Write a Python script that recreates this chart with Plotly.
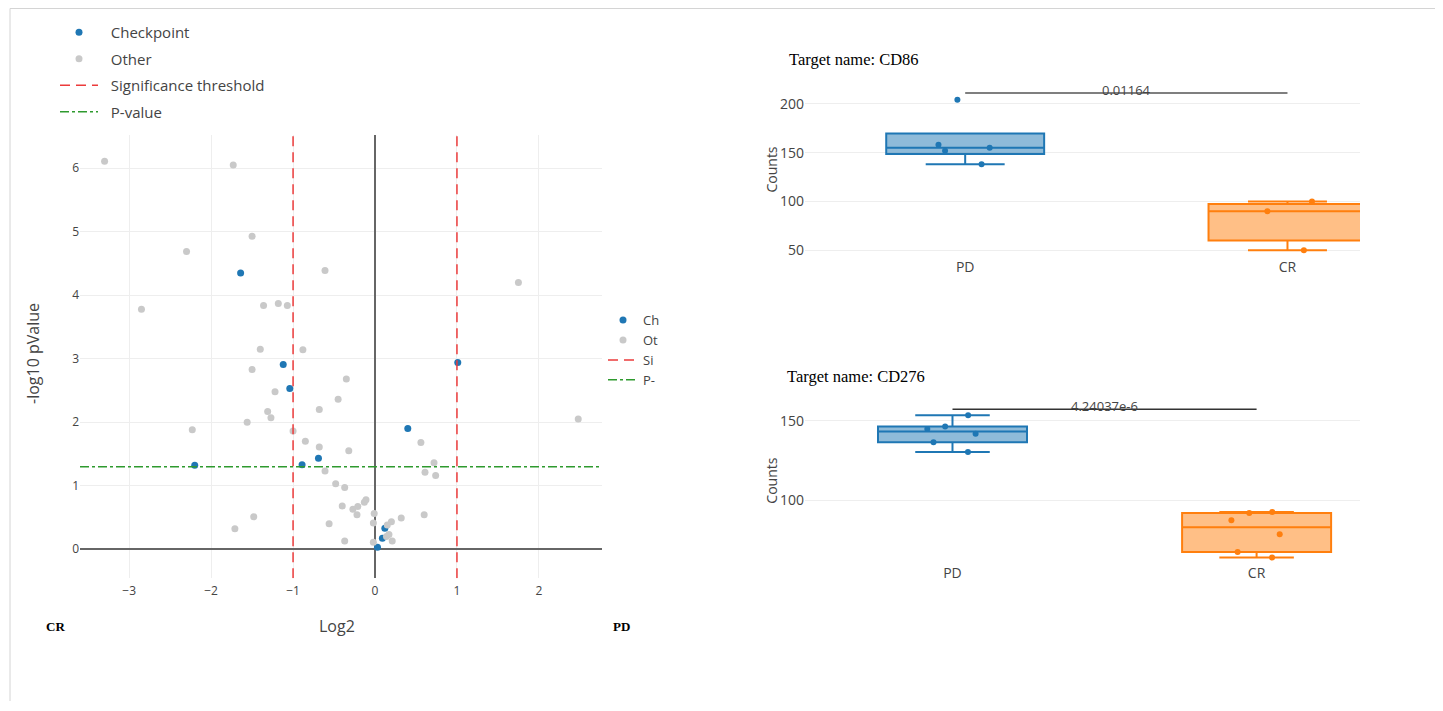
import plotly.graph_objects as go

# ---------------- figure geometry (page pixels -> paper) ----------------
W, H = 1427, 695
OX, OY = 8, 8


def px(X):
    return (X - OX) / W


def py(Y):
    return 1 - (Y - OY) / H


# ---------------- volcano data ----------------
checkpoint_log2 = [-1.64, 1.01, -1.12, -1.04, 0.40, -2.20, -0.69, -0.89, 0.12, 0.09, 0.03]
checkpoint_nlogp = [4.35, 2.94, 2.91, 2.53, 1.90, 1.32, 1.43, 1.33, 0.33, 0.17, 0.03]

other_log2 = [-3.30, -1.73, -1.50, -2.30, -0.61, 1.75, -2.85, -1.36, -1.18, -1.07,
              -1.40, -0.88, -1.50, -0.35, -1.22, -0.45, -1.31, -1.27, -0.68, -1.56,
              -2.23, 2.48, -1.00, -0.85, -0.68, -0.32, 0.56, 0.72, 0.61, 0.74,
              -0.61, -0.48, -0.37, -0.11, -0.13, -0.40, -0.27, -0.21, -0.22, -0.01,
              -0.56, -0.02, 0.20, 0.15, 0.32, 0.60, -0.37, -0.02, 0.14, 0.17,
              0.21, -1.48, -1.71]
other_nlogp = [6.11, 6.05, 4.93, 4.69, 4.39, 4.20, 3.78, 3.84, 3.87, 3.84,
               3.15, 3.14, 2.83, 2.68, 2.48, 2.36, 2.17, 2.07, 2.20, 2.00,
               1.88, 2.05, 1.86, 1.70, 1.61, 1.55, 1.68, 1.36, 1.21, 1.16,
               1.23, 1.03, 0.97, 0.78, 0.74, 0.68, 0.63, 0.67, 0.54, 0.56,
               0.40, 0.41, 0.43, 0.38, 0.49, 0.54, 0.13, 0.11, 0.20, 0.23,
               0.13, 0.51, 0.32]

fold_thresholds = [-1, 1]
pvalue_cut = 1.3
volcano_xrange = [-3.6, 2.77]
volcano_yrange = [-0.46, 6.53]

legend_names = ["Checkpoint", "Other", "Significance threshold", "P-value"]
clipped_names = ["Ch", "Ot", "Si", "P-"]

# ---------------- box plot data ----------------
groups = ["PD", "CR"]
cd86_pd = [138, 152, 155, 158, 204]
cd86_cr = [50, 90, 100]
cd86_p = "0.01164"
cd86_bar = 211
cd276_pd = [130.4, 136.6, 141.9, 144.8, 146.5, 153.5]
cd276_cr = [64.3, 67.8, 78.9, 87.6, 92.2, 92.8]
cd276_p = "4.24037e-6"
cd276_bar = 157.2

BLUE = "#1f77b4"
ORANGE = "#ff7f0e"
GRAY = "#c9c9c9"
RED = "#ec3b3b"
GREEN = "#2e9a2e"
FONT = "Open Sans"
SERIF = "Liberation Serif"
NB = "&nbsp;&nbsp;"

fig = go.Figure()

# ---- volcano traces (legend 1) ----
fig.add_trace(go.Scatter(x=checkpoint_log2, y=checkpoint_nlogp, mode="markers", name=NB + legend_names[0],
                         marker=dict(color=BLUE, size=7), legendgroup="a", xaxis="x", yaxis="y"))
fig.add_trace(go.Scatter(x=other_log2, y=other_nlogp, mode="markers", name=NB + legend_names[1],
                         marker=dict(color=GRAY, size=7), legendgroup="b", xaxis="x", yaxis="y"))
sx, sy = [], []
for t in fold_thresholds:
    sx += [t, t, None]
    sy += [volcano_yrange[0], volcano_yrange[1], None]
fig.add_trace(go.Scatter(x=sx, y=sy, mode="lines", name=NB + legend_names[2],
                         line=dict(color=RED, width=1.5, dash="10px,6px"), legendgroup="c",
                         xaxis="x", yaxis="y"))
fig.add_trace(go.Scatter(x=volcano_xrange, y=[pvalue_cut, pvalue_cut], mode="lines", name=NB + legend_names[3],
                         line=dict(color=GREEN, width=1.5, dash="dashdot"), legendgroup="d",
                         xaxis="x", yaxis="y"))

# ---- clipped second legend (legend 2) ----
styles = [dict(mode="markers", marker=dict(color=BLUE, size=7)),
          dict(mode="markers", marker=dict(color=GRAY, size=7)),
          dict(mode="lines", line=dict(color=RED, width=1.5, dash="10px,6px")),
          dict(mode="lines", line=dict(color=GREEN, width=1.5, dash="dashdot"))]
for nm, mk in zip(clipped_names, styles):
    fig.add_trace(go.Scatter(x=[None], y=[None], name=nm, legend="legend2", xaxis="x", yaxis="y",
                             hoverinfo="skip", **mk))


# ---- box plots ----
def add_box(vals, grp, color, xa, ya):
    fig.add_trace(go.Box(y=vals, x=[grp] * len(vals), name=grp, boxpoints="all", jitter=0.4,
                         pointpos=0, width=0.49, marker=dict(color=color, size=6),
                         line=dict(color=color, width=2), showlegend=False,
                         xaxis=xa, yaxis=ya))


add_box(cd86_pd, groups[0], BLUE, "x2", "y2")
add_box(cd86_cr, groups[1], ORANGE, "x2", "y2")
add_box(cd276_pd, groups[0], BLUE, "x3", "y3")
add_box(cd276_cr, groups[1], ORANGE, "x3", "y3")

shapes = [
    # page border
    dict(type="line", xref="paper", yref="paper", x0=px(10), x1=1, y0=py(8.5), y1=py(8.5),
         line=dict(color="#d4d4d4", width=1)),
    dict(type="line", xref="paper", yref="paper", x0=px(10), x1=px(10), y0=py(8.5), y1=0,
         line=dict(color="#d4d4d4", width=1)),
    # significance bars
    dict(type="line", xref="x2", yref="y2", x0=0, x1=1, y0=cd86_bar, y1=cd86_bar,
         line=dict(color="#555", width=1.5)),
    dict(type="line", xref="x3", yref="y3", x0=0, x1=1, y0=cd276_bar, y1=cd276_bar,
         line=dict(color="#333", width=1.5)),
]


def note(text, X, Y, size, family=FONT, color="#444", angle=0, xanchor="center"):
    return dict(text=text, x=px(X), y=py(Y), xref="paper", yref="paper", xanchor=xanchor,
                yanchor="middle", showarrow=False, textangle=angle,
                font=dict(family=family, size=size, color=color))


ann = [
    dict(text=cd86_p, x=0.5, y=cd86_bar, xref="x2", yref="y2", showarrow=False, yshift=3,
         xanchor="center", yanchor="middle", font=dict(family=FONT, size=13, color="#444")),
    dict(text=cd276_p, x=0.5, y=cd276_bar, xref="x3", yref="y3", showarrow=False, yshift=3,
         xanchor="center", yanchor="middle", font=dict(family=FONT, size=13, color="#444")),
    note("Target name: CD86", 787, 60, 16.5, SERIF, "black", xanchor="left"),
    note("Target name: CD276", 785, 378, 16.5, SERIF, "black", xanchor="left"),
    note("Counts", 772, 170, 14, angle=-90),
    note("Counts", 772, 482, 14, angle=-90),
    note("Log2", 337, 628, 16),
    note("-log10 pValue", 33, 355, 16, angle=-90),
    note("<b>CR</b>", 55, 628, 13, SERIF, "black"),
    note("<b>PD</b>", 621, 628, 13, SERIF, "black"),
]

tickfont = dict(family=FONT, size=12, color="#444")
boxtick = dict(family=FONT, size=14, color="#444")

fig.update_layout(
    width=W, height=H, autosize=False,
    margin=dict(l=0, r=0, t=0, b=0),
    paper_bgcolor="white", plot_bgcolor="white",
    font=dict(family=FONT, color="#444"),
    showlegend=True,
    legend=dict(x=px(55), y=py(16), xanchor="left", yanchor="top", font=dict(size=15, color="#444"),
                itemwidth=38, traceorder="grouped", tracegroupgap=4, bgcolor="rgba(0,0,0,0)"),
    legend2=dict(x=px(603), y=py(306), xanchor="left", yanchor="top", font=dict(size=13, color="#444"),
                 bgcolor="rgba(0,0,0,0)"),
    xaxis=dict(domain=[px(80), px(602)], range=volcano_xrange, anchor="y",
               showgrid=True, gridcolor="#eeeeee", zeroline=True, zerolinecolor="#666",
               zerolinewidth=1.5, tickfont=tickfont, ticks="", showline=False, dtick=1,
               ticklabelstandoff=4),
    yaxis=dict(domain=[py(580), py(135)], range=volcano_yrange, anchor="x",
               showgrid=True, gridcolor="#eeeeee", zeroline=True, zerolinecolor="#666",
               zerolinewidth=1.5, tickfont=tickfont, ticks="", showline=False, dtick=1),
    xaxis2=dict(domain=[px(805), px(1360)], range=[-0.497, 1.225], anchor="y2", type="category",
                categoryorder="array", categoryarray=groups, showgrid=False, zeroline=False,
                tickfont=boxtick),
    yaxis2=dict(domain=[py(258), py(80)], range=[42.9, 224.5], anchor="x2", showgrid=True,
                gridcolor="#eeeeee", zeroline=False, tickfont=boxtick, tickvals=[50, 100, 150, 200]),
    xaxis3=dict(domain=[px(805), px(1360)], range=[-0.485, 1.34], anchor="y3", type="category",
                categoryorder="array", categoryarray=groups, showgrid=False, zeroline=False,
                tickfont=boxtick),
    yaxis3=dict(domain=[py(565), py(400)], range=[60.6, 163.75], anchor="x3", showgrid=True,
                gridcolor="#eeeeee", zeroline=False, tickfont=boxtick, tickvals=[100, 150]),
    shapes=shapes,
    annotations=ann,
)

fig.write_html("out.html")
